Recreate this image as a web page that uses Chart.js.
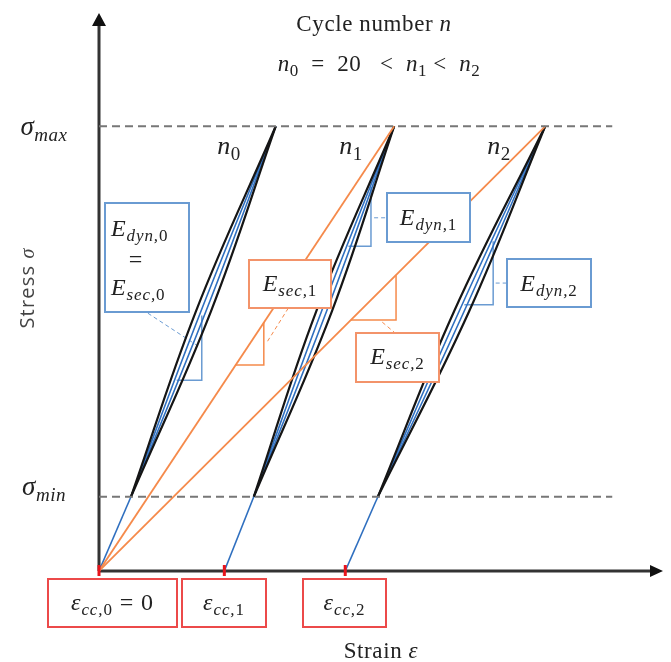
<!DOCTYPE html>
<html>
<head>
<meta charset="utf-8">
<script src="https://cdn.jsdelivr.net/npm/chart.js@4.4.1/dist/chart.umd.min.js"></script>
<style>
  html, body { margin: 0; padding: 0; background: #fff; }
  canvas { display: block; }
</style>
</head>
<body>
<canvas id="chart" width="671" height="662"></canvas>
<script>
// strain / stress values (arbitrary units)
const sigmaMax = 7.97;
const sigmaMin = 1.33;
const sigmaMid = 4.65;
const strainEnd = 8.19;                  // where the dashed limit lines stop

const epsCC = [0, 2.0, 3.93];            // eps_cc,0 .. eps_cc,2
const loopBottom = [0.51, 2.47, 4.45];   // strain of each loop at sigma_min
const loopTop = [2.82, 4.71, 7.12];      // strain of each loop at sigma_max
const outerLeft = [1.545, 3.465, 5.665]; // black branches at sigma_mid
const innerLeft = [1.625, 3.55, 5.745];  // blue branches at sigma_mid
const innerRight = [1.705, 3.63, 5.825];
const outerRight = [1.785, 3.715, 5.905];

// slope triangles: [x left, x right, y bottom, y top]
const dynTriangles = [
  [1.24, 1.64, 3.42, 4.58],
  [3.98, 4.34, 5.82, 6.88],
  [5.83, 6.29, 4.77, 5.91]
];
const secTriangles = [
  [2.17, 2.63, 3.69, 4.46],
  [4.02, 4.74, 4.50, 5.30]
];
// dashed leader lines from labels to triangles: [x0, y0, x1, y1]
const dynLeaders = [
  [0.78, 4.62, 1.61, 4.01],
  [4.39, 6.33, 4.60, 6.33],
  [6.33, 5.16, 6.51, 5.16]
];
const secLeaders = [
  [3.02, 4.71, 2.68, 4.10],
  [4.52, 4.46, 4.72, 4.27]
];

const BLACK = '#151515';
const BLUE = '#2f6fbf';
const BLUE_BOX = '#6a9bd2';
const ORANGE = '#f58a4b';
const ORANGE_BOX = '#f3936a';
const RED = '#ec4a4a';
const SERIF = '"Liberation Serif", serif';

function seg(points, color, width, dash, tension) {
  return {
    data: points,
    borderColor: color,
    borderWidth: width,
    borderDash: dash || [],
    tension: tension || 0,
    pointRadius: 0,
    fill: false
  };
}

const datasets = [];

// limit lines
datasets.push(seg([{ x: 0, y: sigmaMax }, { x: strainEnd, y: sigmaMax }], '#777', 2, [8, 5]));
datasets.push(seg([{ x: 0, y: sigmaMin }, { x: strainEnd, y: sigmaMin }], '#777', 2, [8, 5]));

// secant lines from the origin to the loop tips
datasets.push(seg([{ x: 0, y: 0 }, { x: loopTop[1], y: sigmaMax }], ORANGE, 1.8));
datasets.push(seg([{ x: 0, y: 0 }, { x: loopTop[2], y: sigmaMax }], ORANGE, 1.8));

loopBottom.forEach((xb, i) => {
  const xt = loopTop[i];
  datasets.push(seg([{ x: epsCC[i], y: 0 }, { x: xb, y: sigmaMin }], BLUE, 1.6));
  datasets.push(seg([{ x: xb, y: sigmaMin }, { x: outerLeft[i], y: sigmaMid }, { x: xt, y: sigmaMax }], BLACK, 2.2, null, 0.4));
  datasets.push(seg([{ x: xb, y: sigmaMin }, { x: outerRight[i], y: sigmaMid }, { x: xt, y: sigmaMax }], BLACK, 2.2, null, 0.4));
  datasets.push(seg([{ x: xb, y: sigmaMin }, { x: innerLeft[i], y: sigmaMid }, { x: xt, y: sigmaMax }], BLUE, 1.6, null, 0.4));
  datasets.push(seg([{ x: xb, y: sigmaMin }, { x: innerRight[i], y: sigmaMid }, { x: xt, y: sigmaMax }], BLUE, 1.6, null, 0.4));
});

dynTriangles.forEach(t => {
  datasets.push(seg([{ x: t[0], y: t[2] }, { x: t[1], y: t[2] }, { x: t[1], y: t[3] }], BLUE_BOX, 1.5));
});
secTriangles.forEach(t => {
  datasets.push(seg([{ x: t[0], y: t[2] }, { x: t[1], y: t[2] }, { x: t[1], y: t[3] }], ORANGE, 1.5));
});
dynLeaders.forEach(l => {
  datasets.push(seg([{ x: l[0], y: l[1] }, { x: l[2], y: l[3] }], BLUE_BOX, 1, [4, 3]));
});
secLeaders.forEach(l => {
  datasets.push(seg([{ x: l[0], y: l[1] }, { x: l[2], y: l[3] }], ORANGE, 1, [4, 3]));
});

// text runs: [text, flags]  i = italic, s = subscript, n = sans
const E = (a, b) => [['E', 'i'], [a, 'is'], [b, 's']];
const labelBoxes = [
  { color: BLUE_BOX, box: [105, 203, 189, 312], lines: [
    { runs: E('dyn,', '0'), x: 111, y: 236, align: 'left' },
    { runs: [['=', '']], x: 136, y: 267, align: 'center' },
    { runs: E('sec,', '0'), x: 111, y: 295, align: 'left' }] },
  { color: BLUE_BOX, box: [387, 193, 470, 242], lines: [{ runs: E('dyn,', '1'), y: 225 }] },
  { color: BLUE_BOX, box: [507, 259, 591, 307], lines: [{ runs: E('dyn,', '2'), y: 291 }] },
  { color: ORANGE_BOX, box: [249, 260, 331, 308], lines: [{ runs: E('sec,', '1'), y: 291 }] },
  { color: ORANGE_BOX, box: [356, 333, 439, 382], lines: [{ runs: E('sec,', '2'), y: 364 }] },
  { color: RED, box: [48, 579, 177, 627], lines: [{ runs: [['ε', 'i'], ['cc,', 'is'], ['0', 's'], [' = 0', '']], y: 610 }] },
  { color: RED, box: [182, 579, 266, 627], lines: [{ runs: [['ε', 'i'], ['cc,', 'is'], ['1', 's']], y: 610 }] },
  { color: RED, box: [303, 579, 386, 627], lines: [{ runs: [['ε', 'i'], ['cc,', 'is'], ['2', 's']], y: 610 }] }
];

const freeTexts = [
  { runs: [['Cycle number ', ''], ['n', 'i']], x: 374, y: 31, size: 23, sp: 0.6 },
  { runs: [['n', 'i'], ['0', 's'], ['  =  20   <  ', ''], ['n', 'i'], ['1', 's'], [' <  ', ''], ['n', 'i'], ['2', 's']], x: 379, y: 71, size: 23, sp: 0.5 },
  { runs: [['σ', 'i'], ['max', 'is']], x: 44, y: 135, size: 27, sp: 0.5 },
  { runs: [['σ', 'i'], ['min', 'is']], x: 44, y: 495, size: 27, sp: 0.5 },
  { runs: [['n', 'i'], ['0', 's']], x: 229, y: 154, size: 26, sp: 0.5 },
  { runs: [['n', 'i'], ['1', 's']], x: 351, y: 154, size: 26, sp: 0.5 },
  { runs: [['n', 'i'], ['2', 's']], x: 499, y: 154, size: 26, sp: 0.5 },
  { runs: [['Strain ', ''], ['ε', 'i']], x: 381, y: 658, size: 23, sp: 0.6 }
];

function runFont(flags, size) {
  const sub = flags.includes('s');
  const s = sub ? Math.round(size * 0.72) : size;
  const fam = flags.includes('n') ? '"Open Sans", sans-serif' : SERIF;
  return (flags.includes('i') ? 'italic ' : '') + s + 'px ' + fam;
}

function drawRuns(ctx, runs, x, y, align, size, spacing) {
  ctx.letterSpacing = (spacing || 0) + 'px';
  let total = 0;
  const widths = runs.map(r => {
    ctx.font = runFont(r[1], size);
    const w = ctx.measureText(r[0]).width;
    total += w;
    return w;
  });
  let cx = align === 'left' ? x : x - total / 2;
  runs.forEach((r, i) => {
    ctx.font = runFont(r[1], size);
    const dy = r[1].includes('s') ? size * 0.22 : 0;
    ctx.fillText(r[0], cx, y + dy);
    cx += widths[i];
  });
  ctx.letterSpacing = '0px';
}

const sketchPlugin = {
  id: 'sketch',
  beforeDatasetsDraw(chart) {
    const { ctx, scales } = chart;
    const x0 = scales.x.getPixelForValue(0);
    const y0 = scales.y.getPixelForValue(0);
    const area = chart.chartArea;
    ctx.save();
    ctx.strokeStyle = '#333';
    ctx.fillStyle = '#111';
    ctx.lineWidth = 3;
    ctx.beginPath();
    ctx.moveTo(x0, y0);
    ctx.lineTo(x0, area.top + 10);
    ctx.moveTo(x0, y0);
    ctx.lineTo(area.right - 10, y0);
    ctx.stroke();
    // arrow heads
    ctx.beginPath();
    ctx.moveTo(x0, area.top);
    ctx.lineTo(x0 - 7, area.top + 13);
    ctx.lineTo(x0 + 7, area.top + 13);
    ctx.closePath();
    ctx.moveTo(area.right, y0);
    ctx.lineTo(area.right - 13, y0 - 6);
    ctx.lineTo(area.right - 13, y0 + 6);
    ctx.closePath();
    ctx.fill();
    ctx.restore();
  },
  afterDatasetsDraw(chart) {
    const { ctx, scales } = chart;
    const y0 = scales.y.getPixelForValue(0);
    ctx.save();
    // red strain ticks
    ctx.fillStyle = '#e8141b';
    epsCC.forEach(e => {
      const px = scales.x.getPixelForValue(e);
      ctx.fillRect(px - 1.5, y0 - 6, 3, 11);
    });
    // labelled boxes
    ctx.textBaseline = 'alphabetic';
    labelBoxes.forEach(b => {
      const [bx0, by0, bx1, by1] = b.box;
      ctx.fillStyle = '#fff';
      ctx.fillRect(bx0, by0, bx1 - bx0, by1 - by0);
      ctx.strokeStyle = b.color;
      ctx.lineWidth = 2;
      ctx.strokeRect(bx0, by0, bx1 - bx0, by1 - by0);
      ctx.fillStyle = '#222';
      b.lines.forEach(l => {
        const cx = l.x != null ? l.x : (bx0 + bx1) / 2;
        drawRuns(ctx, l.runs, cx, l.y, l.align || 'center', 24, 0.9);
      });
    });
    ctx.fillStyle = '#222';
    freeTexts.forEach(t => drawRuns(ctx, t.runs, t.x, t.y, 'center', t.size, t.sp));
    // rotated y-axis title
    ctx.translate(34, 288);
    ctx.rotate(-Math.PI / 2);
    ctx.fillStyle = '#444';
    drawRuns(ctx, [['Stress ', 'n'], ['σ', 'i']], 0, 0, 'center', 20, 1.2);
    ctx.restore();
  }
};

new Chart(document.getElementById('chart'), {
  type: 'line',
  data: { datasets: datasets },
  options: {
    responsive: false,
    animation: false,
    events: [],
    layout: { padding: { left: 99, right: 8, top: 13, bottom: 91 } },
    plugins: { legend: { display: false }, tooltip: { enabled: false } },
    scales: {
      x: { type: 'linear', min: 0, max: 9, display: false },
      y: { type: 'linear', min: 0, max: 10, display: false }
    }
  },
  plugins: [sketchPlugin]
});
</script>
</body>
</html>
